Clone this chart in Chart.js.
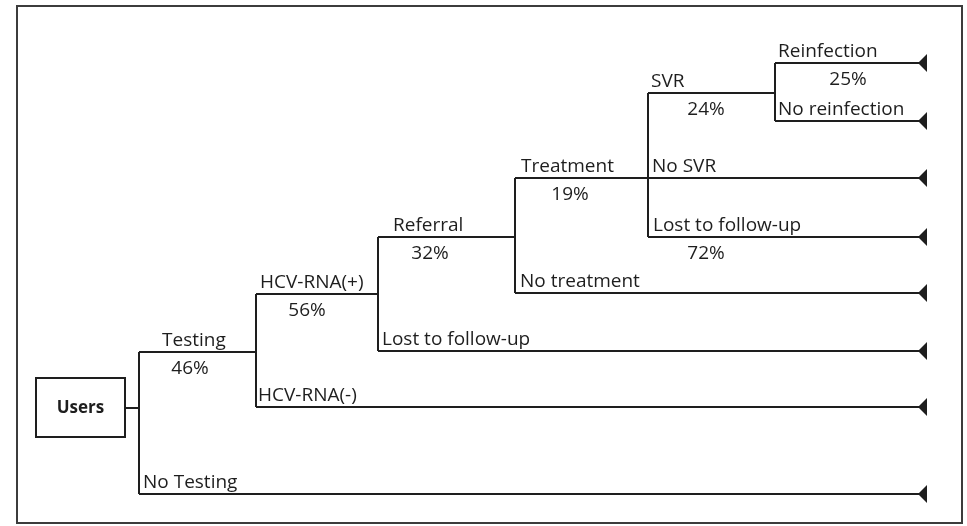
<!DOCTYPE html>
<html lang="en">
<head>
<meta charset="UTF-8">
<title>Decision tree – HCV care cascade</title>
<script src="https://cdn.jsdelivr.net/npm/chart.js"></script>
<style>
    body{margin:0;background:#fff}
    .wrap{width:967px;height:526px;position:relative}
</style>
</head>
<body>
<div class="wrap"><canvas id="tree"></canvas></div>
<script>
// tree data: one entry per branch
const branchLabel=['Testing','No Testing','HCV-RNA(+)','HCV-RNA(-)','Referral','Lost to follow-up','Treatment','No treatment','SVR','No SVR','Lost to follow-up','Reinfection','No reinfection'];
const branchPct=['46%','','56%','','32%','','19%','','24%','','72%','25%',''];
const branchParent=[0,0,1,1,2,2,3,3,4,4,4,5,5];     // chance node the branch leaves from
const branchChild=[1,null,2,null,3,null,4,null,5,null,null,null,null]; // node it leads to (null = terminal)
const rootLabel='Users';

// layout in diagram units (0..967 x 0..526)
const nodeX=[139,256,378,515,648,775];
const branchY=[352,494,294,407,237,351,178,293,93,178,237,63,121];
const leafX=927;
const labelX=[162,143,260,258,393,382,521,520,651,652,653,778,778];
const pctX=[190,null,307,null,430,null,570,null,706,null,706,848,null];
const rootBox={x0:36,x1:125,y0:378,y1:437,cy:408};
const frame={x0:17,x1:962,y0:6,y1:523};

const INK='#1e1e1e';
const seg=(a,b)=>({data:[a,b],showLine:true,borderColor:INK,borderWidth:2,pointRadius:0,fill:false});
const datasets=[];
// connector from the Users box to the first node
datasets.push(seg({x:rootBox.x1,y:rootBox.cy},{x:nodeX[0],y:rootBox.cy}));
// vertical spine of each chance node
nodeX.forEach((nx,k)=>{
    const ys=branchY.filter((y,i)=>branchParent[i]===k);
    datasets.push(seg({x:nx,y:Math.min(...ys)},{x:nx,y:Math.max(...ys)}));
});
// horizontal branches
branchLabel.forEach((l,i)=>{
    const x0=nodeX[branchParent[i]];
    const x1=branchChild[i]===null?leafX:nodeX[branchChild[i]];
    datasets.push(seg({x:x0,y:branchY[i]},{x:x1,y:branchY[i]}));
});
// terminal arrow heads (narrow triangle pointing left)
const arrow=document.createElement('canvas');
arrow.width=20;arrow.height=18;
(function(){const c=arrow.getContext('2d');c.fillStyle=INK;c.beginPath();c.moveTo(1,9);c.lineTo(10,0);c.lineTo(10,18);c.closePath();c.fill();})();
const leaves=branchLabel.map((l,i)=>i).filter(i=>branchChild[i]===null);
datasets.push({data:leaves.map(i=>({x:leafX,y:branchY[i]})),showLine:false,pointStyle:arrow,pointRadius:9});

const textPlugin={
    id:'treeText',
    afterDatasetsDraw(chart){
        const {ctx,scales:{x,y}}=chart;
        ctx.save();
        // outer frame
        ctx.strokeStyle='#3c3c3c';ctx.lineWidth=2;
        ctx.strokeRect(x.getPixelForValue(frame.x0),y.getPixelForValue(frame.y0),x.getPixelForValue(frame.x1)-x.getPixelForValue(frame.x0),y.getPixelForValue(frame.y1)-y.getPixelForValue(frame.y0));
        // root box
        ctx.strokeStyle=INK;
        const bx=x.getPixelForValue(rootBox.x0),by=y.getPixelForValue(rootBox.y0);
        ctx.strokeRect(bx,by,x.getPixelForValue(rootBox.x1)-bx,y.getPixelForValue(rootBox.y1)-by);
        ctx.fillStyle=INK;
        ctx.font='bold 17px "Open Sans"';ctx.textAlign='center';ctx.textBaseline='middle';
        ctx.fillText(rootLabel,x.getPixelForValue((rootBox.x0+rootBox.x1)/2),y.getPixelForValue(rootBox.cy));
        // branch labels and probabilities
        ctx.font='19px "Open Sans"';ctx.textBaseline='alphabetic';
        branchLabel.forEach((l,i)=>{
            const py=y.getPixelForValue(branchY[i]);
            ctx.textAlign='left';
            ctx.fillText(l,x.getPixelForValue(labelX[i]),py-6);
            if(branchPct[i]){
                ctx.textAlign='center';
                ctx.fillText(branchPct[i],x.getPixelForValue(pctX[i]),py+22);
            }
        });
        ctx.restore();
    }
};

new Chart(document.getElementById('tree'),{
    type:'scatter',
    data:{datasets},
    options:{responsive:true,maintainAspectRatio:false,animation:false,
        layout:{padding:0,autoPadding:false},
        plugins:{legend:{display:false},tooltip:{enabled:false}},
        scales:{x:{type:'linear',min:0,max:967,display:false},y:{type:'linear',min:0,max:526,reverse:true,display:false}}},
    plugins:[textPlugin]
});
</script>
</body>
</html>
